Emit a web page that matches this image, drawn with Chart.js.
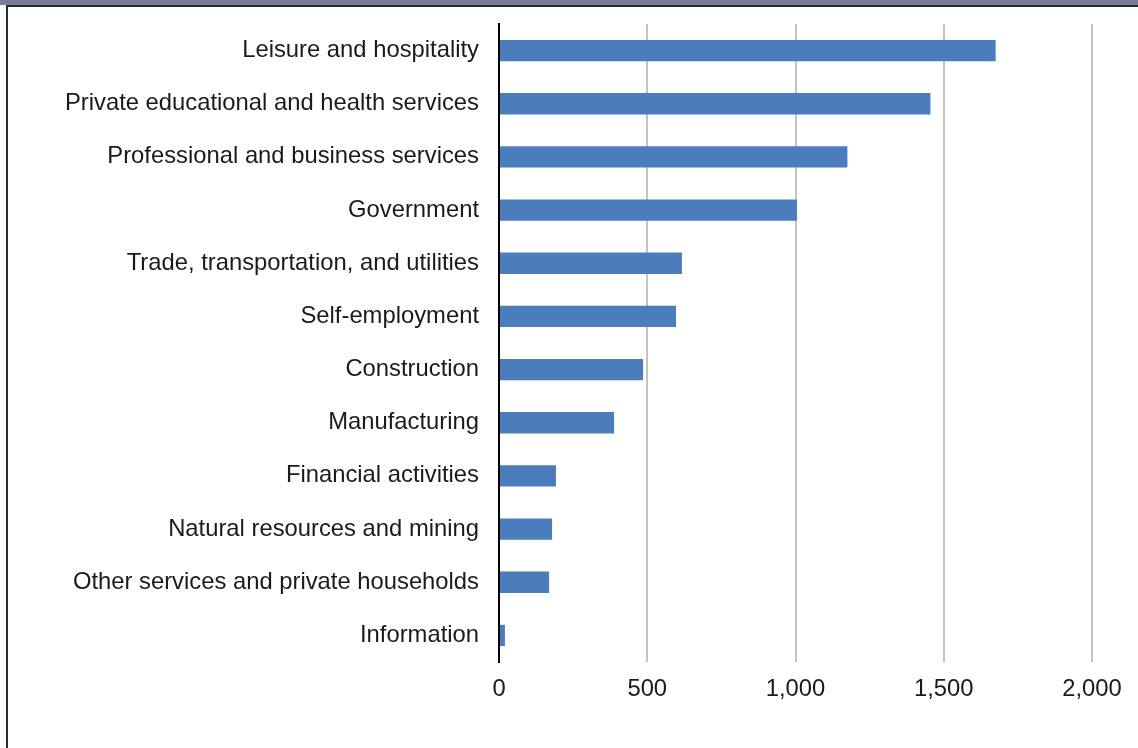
<!DOCTYPE html>
<html>
<head>
<meta charset="utf-8">
<script src="https://cdn.jsdelivr.net/npm/chart.js@4"></script>
<style>
  body { margin: 0; background: #fff; }
  #wrap { position: relative; width: 1138px; height: 748px; overflow: hidden; }
  #strip { position: absolute; left: 0; top: 0; width: 1138px; height: 5px; background: #7a7a9c; }
  #frame { position: absolute; left: 6px; top: 5px; width: 1140px; height: 750px;
           border-left: 2px solid #2a2a2a; border-top: 2px solid #2a2a2a; }
  #myChart { position: absolute; left: 0; top: 0; }
</style>
</head>
<body>
<div id="wrap">
  <div id="strip"></div>
  <div id="frame"></div>
  <canvas id="myChart" width="1138" height="748"></canvas>
</div>
<script>
// jobs by industry
const industries = [
  "Leisure and hospitality",
  "Private educational and health services",
  "Professional and business services",
  "Government",
  "Trade, transportation, and utilities",
  "Self-employment",
  "Construction",
  "Manufacturing",
  "Financial activities",
  "Natural resources and mining",
  "Other services and private households",
  "Information"
];
const jobs = [1675, 1455, 1175, 1005, 617, 597, 486, 388, 192, 179, 169, 20];
const xTicks = [0, 500, 1000, 1500, 2000];

const labelFont = { family: "'Liberation Sans', Arial, sans-serif", size: 23.8 };

const ctx = document.getElementById("myChart").getContext("2d");
new Chart(ctx, {
  type: "bar",
  data: {
    labels: industries,
    datasets: [
      {
        label: "Jobs",
        data: jobs,
        backgroundColor: "#4b7dbd",
        categoryPercentage: 1,
        barPercentage: 0.4
      }
    ]
  },
  options: {
    indexAxis: "y",
    responsive: false,
    animation: false,
    layout: { padding: { top: 24, right: 46, bottom: 0, left: 0 } },
    plugins: { legend: { display: false }, tooltip: { enabled: false } },
    scales: {
      x: {
        min: 0,
        max: 2000,
        afterBuildTicks: (scale) => { scale.ticks = xTicks.map(v => ({ value: v })); },
        afterFit: (scale) => { scale.height = 86; scale.paddingLeft = 0; scale.paddingRight = 0; },
        border: { display: false },
        grid: {
          drawTicks: false,
          color: (c) => c.tick && c.tick.value === 0 ? "rgba(0,0,0,0)" : "#c4c4c4",
          lineWidth: 2
        },
        ticks: {
          padding: 13,
          color: "#1a1a1a",
          font: labelFont,
          callback: (v) => Number(v).toLocaleString("en-US")
        }
      },
      y: {
        afterFit: (scale) => { scale.width = 499; scale.paddingTop = 0; scale.paddingBottom = 0; },
        border: { display: true, color: "#000", width: 2 },
        grid: { display: false, drawTicks: false },
        ticks: {
          padding: 20,
          color: "#1a1a1a",
          font: labelFont
        }
      }
    }
  }
});
</script>
</body>
</html>
